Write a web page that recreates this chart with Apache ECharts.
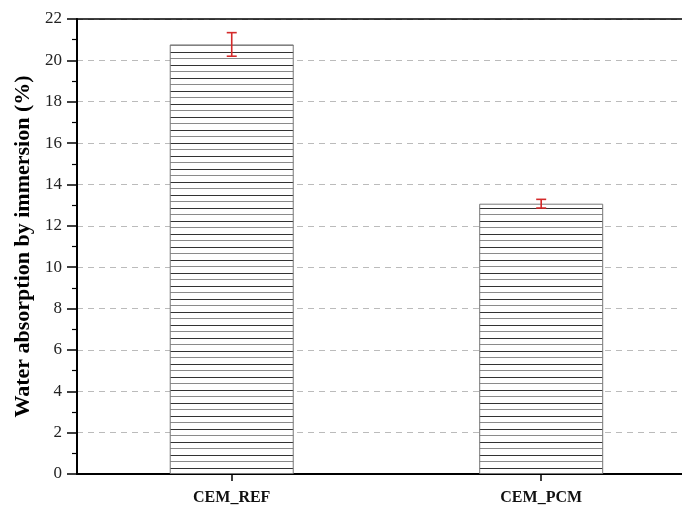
<!DOCTYPE html>
<html><head><meta charset="utf-8">
<script src="https://cdn.jsdelivr.net/npm/echarts@6/dist/echarts.min.js"></script>
<style>html,body{margin:0;padding:0;background:#fff}#c{width:682px;height:506px}</style>
</head><body><div id="c"></div>
<script>
var categories = ['CEM_REF', 'CEM_PCM'];
var values = [20.77, 13.07];
var errors = [0.57, 0.21];
var yTicks = [0, 2, 4, 6, 8, 10, 12, 14, 16, 18, 20, 22];

var pc = document.createElement('canvas');
pc.width = 4; pc.height = 13;
var g = pc.getContext('2d');
g.fillStyle = '#fff'; g.fillRect(0, 0, 4, 13);
g.fillStyle = '#333'; g.fillRect(0, 0, 4, 1);
g.fillStyle = '#8a8a8a'; g.fillRect(0, 6, 4, 1);

var catIdx = categories.map(function (c, i) { return i; });
var chart = echarts.init(document.getElementById('c'), null, {renderer: 'canvas'});
var serif = '"Liberation Serif", "Times New Roman", serif';
chart.setOption({
  animation: false,
  backgroundColor: '#fff',
  grid: {left: 77, top: 19, right: 0, bottom: 32, show: false},
  xAxis: [{
    type: 'value', min: -0.5, max: 1.455,
    axisLine: {show: true, onZero: false, lineStyle: {color: '#000', width: 2}},
    axisTick: {show: true, customValues: catIdx, length: 7, lineStyle: {color: '#000', width: 1.5}},
    axisLabel: {customValues: catIdx, margin: 16, fontFamily: serif, fontWeight: 'bold', fontSize: 16, color: '#111',
      formatter: function (v) { return categories[Math.round(v)] || ''; }},
    splitLine: {show: false}
  }, {
    type: 'value', position: 'top', min: -0.5, max: 1.455,
    axisLine: {show: true, onZero: false, lineStyle: {color: '#000', width: 1.5}},
    axisTick: {show: false}, axisLabel: {show: false}, splitLine: {show: false}
  }],
  yAxis: {
    type: 'value', min: yTicks[0], max: yTicks[yTicks.length - 1], interval: 2,
    name: 'Water absorption by immersion (%)', nameLocation: 'middle', nameGap: 37,
    nameTextStyle: {fontFamily: serif, fontWeight: 'bold', fontSize: 22, color: '#000'},
    axisLine: {show: true, onZero: false, lineStyle: {color: '#000', width: 2}},
    axisTick: {show: true, length: 10, lineStyle: {color: '#000', width: 1.5}},
    minorTick: {show: true, splitNumber: 2, length: 5, lineStyle: {color: '#000', width: 1.2}},
    axisLabel: {margin: 15, fontFamily: serif, fontSize: 17, color: '#222'},
    splitLine: {show: true, lineStyle: {color: '#bbb', type: [6, 5], width: 1}}
  },
  series: [{
    type: 'bar', xAxisIndex: 0, data: values.map(function (v, i) { return [i, v]; }), barWidth: 124,
    itemStyle: {color: {image: pc, repeat: 'repeat'}, borderColor: '#777', borderWidth: 1}
  }, {
    type: 'custom', xAxisIndex: 0,
    data: values.map(function (v, i) { return [i, v - errors[i], v + errors[i]]; }),
    renderItem: function (params, api) {
      var lo = api.coord([api.value(0), api.value(1)]);
      var hi = api.coord([api.value(0), api.value(2)]);
      var w = 5;
      var st = {stroke: '#d42a2a', lineWidth: 1.6};
      return {type: 'group', children: [
        {type: 'line', shape: {x1: lo[0], y1: lo[1], x2: hi[0], y2: hi[1]}, style: st},
        {type: 'line', shape: {x1: lo[0] - w, y1: lo[1], x2: lo[0] + w, y2: lo[1]}, style: st},
        {type: 'line', shape: {x1: hi[0] - w, y1: hi[1], x2: hi[0] + w, y2: hi[1]}, style: st}
      ]};
    },
    z: 10
  }]
});
</script></body></html>
